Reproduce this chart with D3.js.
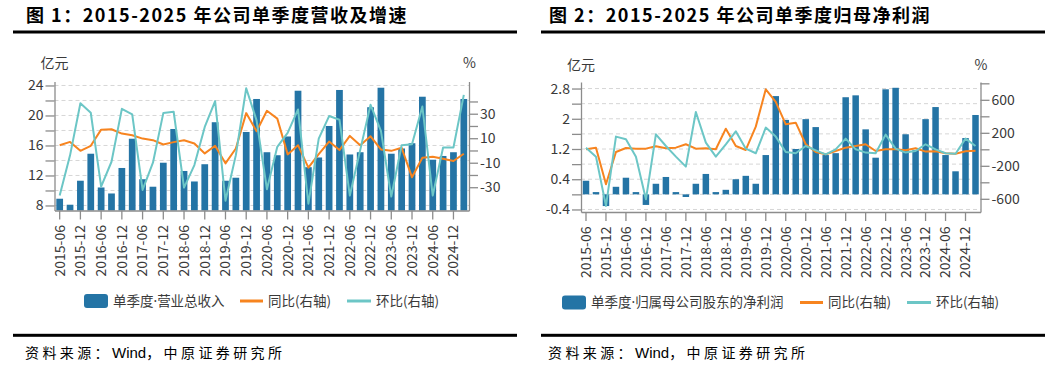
<!DOCTYPE html>
<html><head><meta charset="utf-8">
<script src="https://cdn.jsdelivr.net/npm/d3@7"></script>
<style>
body{margin:0;background:#fff;}
svg{display:block;font-family:"Noto Sans CJK SC","Noto Sans",sans-serif;}
</style></head><body>
<svg id="c" width="1064" height="366"></svg>
<script>
// ---------- data ----------
const quarters = ["2015-06","2015-09","2015-12","2016-03","2016-06","2016-09","2016-12","2017-03",
  "2017-06","2017-09","2017-12","2018-03","2018-06","2018-09","2018-12","2019-03",
  "2019-06","2019-09","2019-12","2020-03","2020-06","2020-09","2020-12","2021-03",
  "2021-06","2021-09","2021-12","2022-03","2022-06","2022-09","2022-12","2023-03",
  "2023-06","2023-09","2023-12","2024-03","2024-06","2024-09","2024-12","2025-03"];

// Figure 1: quarterly revenue (亿元) and growth (%)
const revenue = [8.9,8.1,11.3,14.9,10.4,9.6,13.0,16.9,11.5,10.5,13.7,18.2,12.6,11.2,13.5,19.1,
  11.3,11.7,17.8,22.2,15.1,14.7,17.2,23.3,13.1,14.4,18.6,23.4,14.8,15.1,21.1,23.7,
  14.9,15.6,16.3,22.5,14.1,14.6,15.1,22.2];
const revenueYoY = [4.3,7.0,-0.3,3.8,17.0,17.3,13.8,12.4,9.7,8.4,4.9,6.8,8.4,5.7,-2.4,3.8,
  -10.5,1.6,30.5,15.7,32.4,26.0,-3.2,4.3,-14.0,-3.0,7.3,0.3,11.9,4.3,11.6,0.8,
  -0.3,2.2,-21.9,-6.0,-5.1,-6.8,-8.6,-2.7];
const revenueQoQ = [-36.8,-4.0,38.6,30.8,-29.5,-9.2,34.0,29.5,-32.2,-10.0,30.5,31.6,-30.3,-11.9,19.2,40.3,
  -41.0,-3.8,50.8,24.6,-31.6,3.0,14.3,33.5,-43.5,9.7,28.1,25.1,-36.8,0.3,37.3,16.0,
  -37.6,4.3,5.1,35.9,-36.8,2.4,2.4,45.4];

// Figure 2: quarterly net profit attributable to parent (亿元) and growth (%)
const profit = [0.36,0.06,-0.31,0.20,0.44,0.06,-0.28,0.28,0.46,0.06,-0.07,0.28,0.54,0.06,0.12,0.40,
  0.49,0.28,1.04,2.60,1.97,1.20,1.99,1.78,1.04,1.09,2.57,2.62,1.72,0.97,2.78,2.82,
  1.59,1.17,1.99,2.31,1.04,0.61,1.49,2.10];
const profitYoY = [0,20,-424,-32,16,8,8,36,12,20,61,8,12,0,250,40,
  -8,275,727,574,303,323,61,-32,-61,-20,20,40,61,-20,0,0,
  -12,12,-28,-24,-48,-53,-24,-16];
const profitQoQ = [20,-89,-687,154,121,-89,-606,182,40,-89,-210,452,81,-89,61,218,
  8,-48,263,154,-32,-48,40,-12,-61,0,129,0,-40,-48,178,8,
  -40,-20,61,0,-48,-53,129,40];

// tick values / labels
const leftTicks1 = [8,10,12,14,16,18,20,22,24];
const leftLabels1 = [8,12,16,20,24];
const rightTicks1 = [-30,-20,-10,0,10,20,30,40];
const rightLabels1 = [-30,-10,10,30];
const leftTicks2 = [-0.4,0,0.4,0.8,1.2,1.6,2,2.4,2.8];
const leftLabels2 = [-0.4,0.4,1.2,2,2.8];
const rightTicks2 = [-600,-400,-200,0,200,400,600,800];
const rightLabels2 = [-600,-200,200,600];
const xLabels = quarters.filter((d,i)=>i%2===0);

const titles = ["图 1：2015-2025 年公司单季度营收及增速","图 2：2015-2025 年公司单季度归母净利润"];
const legend1 = ["单季度·营业总收入","同比(右轴)","环比(右轴)"];
const legend2 = ["单季度·归属母公司股东的净利润","同比(右轴)","环比(右轴)"];
const sourceParts = ["资料来源：","Wind","，中原证券研究所"];

// ---------- styles ----------
const BAR = "#2474a5", ORANGE = "#f7841f", TEAL = "#6cc6c6";
const AXIS = "#8c8c8c", TXT = "#3a3a3a", GRID = "#d6d6d6";

const svg = d3.select("#c");

function has(arr, v){ return arr.some(a => Math.abs(a - v) < 1e-9); }

// write text, rendering the middle dot with a Latin font so it stays narrow
function dotText(sel, str){
  const parts = str.split("·");
  parts.forEach((p, i) => {
    if (i > 0) sel.append("tspan").attr("font-family", '"Noto Sans",sans-serif').text("·");
    sel.append("tspan").text(p);
  });
}

function panel(o){
  const g = svg.append("g");
  // title
  g.append("text").attr("x", o.titleX).attr("y", 22).attr("font-size", 18)
    .attr("font-weight", "bold").attr("letter-spacing", 1.5).attr("fill", "#000").text(o.title);
  g.append("rect").attr("x", o.ruleX).attr("y", 30.5).attr("width", 504).attr("height", 3).attr("fill", "#000");
  g.append("rect").attr("x", o.ruleX).attr("y", 333.8).attr("width", 504).attr("height", 3).attr("fill", "#000");
  const src = g.append("text").attr("x", o.titleX - 1).attr("y", 358).attr("font-size", 14).attr("fill", "#000");
  src.append("tspan").attr("letter-spacing", 3.4).text(sourceParts[0]);
  src.append("tspan").attr("letter-spacing", 0).attr("font-family", '"Liberation Sans",Arial,sans-serif')
    .attr("font-size", 15).text(sourceParts[1]);
  src.append("tspan").attr("letter-spacing", 3.4).text(sourceParts[2]);

  const x = d3.scaleBand().domain(quarters).range([o.x0, o.x1]).paddingInner(0.35).paddingOuter(0.175);
  const yL = d3.scaleLinear().domain(o.lDomain).range([o.y1, o.y0]);
  const yR = d3.scaleLinear().domain(o.rDomain).range([o.y1, o.y0]);

  // grid
  g.append("g").selectAll("line").data(o.lTicks).join("line")
    .attr("x1", o.x0).attr("x2", o.x1).attr("y1", d => yL(d)).attr("y2", d => yL(d))
    .attr("stroke", GRID).attr("stroke-width", 1).attr("stroke-dasharray", "4,3");

  // bars
  const base = o.barBase === null ? o.lDomain[0] : o.barBase;
  g.append("g").selectAll("rect").data(o.bars).join("rect")
    .attr("x", (d,i) => x(quarters[i])).attr("width", x.bandwidth())
    .attr("y", d => Math.min(yL(d), yL(base)))
    .attr("height", d => Math.abs(yL(d) - yL(base)))
    .attr("fill", BAR);

  // lines
  const cx = i => x(quarters[i]) + x.bandwidth()/2;
  const line = d3.line().x((d,i) => cx(i)).y(d => yR(d));
  g.append("path").datum(o.yoy).attr("d", line).attr("fill", "none")
    .attr("stroke", ORANGE).attr("stroke-width", 2).attr("stroke-linejoin", "round");
  g.append("path").datum(o.qoq).attr("d", line).attr("fill", "none")
    .attr("stroke", TEAL).attr("stroke-width", 2).attr("stroke-linejoin", "round");

  // axes
  const la = g.append("g").attr("transform", `translate(${o.x0},0)`)
    .call(d3.axisLeft(yL).tickValues(o.lTicks).tickSize(9).tickSizeOuter(0).tickPadding(2)
      .tickFormat(d => has(o.lLabels, d) ? String(+d.toFixed(2)) : ""));
  const ra = g.append("g").attr("transform", `translate(${o.x1},0)`)
    .call(d3.axisRight(yR).tickValues(o.rTicks).tickSize(9).tickSizeOuter(0).tickPadding(2)
      .tickFormat(d => has(o.rLabels, d) ? String(d) : ""));
  const xa = g.append("g").attr("transform", `translate(0,${o.y1})`)
    .call(d3.axisBottom(x).tickValues(xLabels).tickSize(9).tickSizeOuter(0));
  xa.selectAll(".tick text").attr("transform", "rotate(-90)").attr("x", -14.5).attr("y", 0)
    .attr("dy", "0.35em").attr("text-anchor", "end");
  [la, ra, xa].forEach(a => {
    a.select(".domain").attr("stroke", AXIS).attr("stroke-width", 1.3);
    a.selectAll(".tick line").attr("stroke", AXIS).attr("stroke-width", 1.3);
    a.selectAll(".tick text").attr("fill", TXT).attr("font-size", 14)
      .attr("font-family", '"Noto Sans CJK SC","Noto Sans",sans-serif');
  });

  // unit labels
  g.append("text").attr("x", o.x0 - 14).attr("y", o.unitY).attr("font-size", 14).attr("fill", TXT).text("亿元");
  g.append("text").attr("x", o.x1 - 6).attr("y", o.unitY).attr("font-size", 14).attr("fill", TXT).text("%");

  // legend
  const ly = o.legendY;
  const lg = g.append("g").attr("font-size", 13.5).attr("fill", TXT);
  lg.append("rect").attr("x", o.leg[0]).attr("y", ly - 7).attr("width", 24).attr("height", 14)
    .attr("rx", 3).attr("fill", BAR);
  dotText(lg.append("text").attr("x", o.leg[0] + 29).attr("y", ly).attr("dy", "0.35em"), o.legend[0]);
  lg.append("line").attr("x1", o.leg[1]).attr("x2", o.leg[1] + 23).attr("y1", ly).attr("y2", ly)
    .attr("stroke", ORANGE).attr("stroke-width", 3);
  lg.append("text").attr("x", o.leg[1] + 28).attr("y", ly).attr("dy", "0.35em").text(o.legend[1]);
  lg.append("line").attr("x1", o.leg[2]).attr("x2", o.leg[2] + 24).attr("y1", ly).attr("y2", ly)
    .attr("stroke", TEAL).attr("stroke-width", 3);
  lg.append("text").attr("x", o.leg[2] + 29).attr("y", ly).attr("dy", "0.35em").text(o.legend[2]);
}

panel({
  title: titles[0], titleX: 26, ruleX: 13,
  x0: 54.5, x1: 469, y0: 81.5, y1: 210.5,
  lDomain: [7.33, 24.53], rDomain: [-49, 56.3],
  lTicks: leftTicks1, lLabels: leftLabels1, rTicks: rightTicks1, rLabels: rightLabels1,
  bars: revenue, yoy: revenueYoY, qoq: revenueQoQ, barBase: null,
  unitY: 68, legendY: 301, leg: [84, 240, 347], legend: legend1
});
panel({
  title: titles[1], titleX: 549, ruleX: 541,
  x0: 581, x1: 980.5, y0: 82, y1: 212,
  lDomain: [-0.467, 2.973], rDomain: [-760, 816],
  lTicks: leftTicks2, lLabels: leftLabels2, rTicks: rightTicks2, rLabels: rightLabels2,
  bars: profit, yoy: profitYoY, qoq: profitQoQ, barBase: 0,
  unitY: 70, legendY: 302.5, leg: [562, 800, 907], legend: legend2
});
</script>
</body></html>
